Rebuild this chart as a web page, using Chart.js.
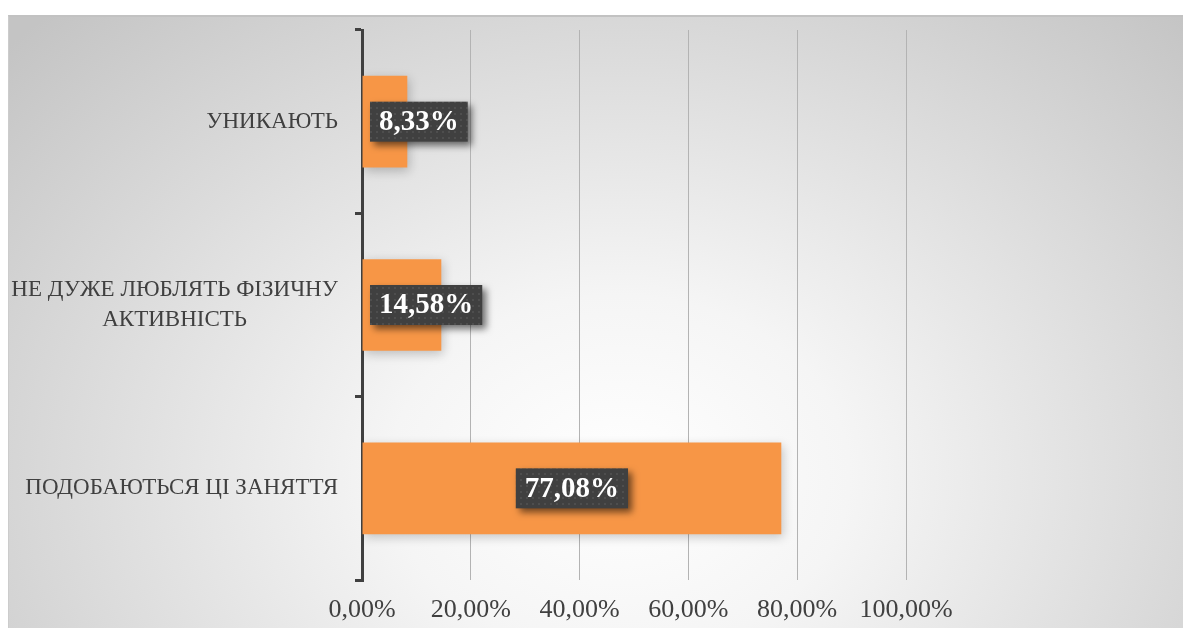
<!DOCTYPE html>
<html lang="uk">
<head>
<meta charset="utf-8">
<title>Ставлення до фізичної активності</title>
<script src="https://cdn.jsdelivr.net/npm/chart.js@4"></script>
<style>
  html, body { margin: 0; padding: 0; background: #ffffff; }
  #bg {
    position: absolute; left: 8px; top: 15px; right: 0; bottom: 0;
    border-top: 2px solid #c2c2c2; border-left: 1px solid #cccccc;
    background: radial-gradient(ellipse 70% 105% at 52% 75%, #ffffff 0%, #f5f5f5 28%, #c4c4c4 100%);
  }
  #wrap { position: absolute; left: 8px; top: 15px; width: 1175px; height: 613px; }
</style>
</head>
<body>
<div id="bg"></div>
<div id="wrap"><canvas id="chart"></canvas></div>
<script>
// категорії та значення (у відсотках)
const categories = ['УНИКАЮТЬ', ['НЕ ДУЖЕ ЛЮБЛЯТЬ ФІЗИЧНУ', 'АКТИВНІСТЬ'], 'ПОДОБАЮТЬСЯ ЦІ ЗАНЯТТЯ'];
const values = [8.33, 14.58, 77.08];
const xTickValues = [0, 20, 40, 60, 80, 100];

const FONT = "'Liberation Serif', 'DejaVu Serif', serif";
const fmt = v => v.toFixed(2).replace('.', ',') + '%';

// темна точкова заливка для підписів
function dotPattern(ctx) {
  const c = document.createElement('canvas');
  c.width = 6; c.height = 6;
  const g = c.getContext('2d');
  g.fillStyle = '#404040';
  g.fillRect(0, 0, 6, 6);
  g.fillStyle = 'rgba(255,255,255,0.10)';
  g.beginPath();
  g.arc(3, 3, 1, 0, Math.PI * 2);
  g.fill();
  return ctx.createPattern(c, 'repeat');
}

// тінь під смугами
const barShadow = {
  id: 'barShadow',
  beforeDatasetsDraw(chart) {
    const ctx = chart.ctx;
    ctx.save();
    ctx.shadowColor = 'rgba(0,0,0,0.22)';
    ctx.shadowBlur = 10;
    ctx.shadowOffsetX = 2;
    ctx.shadowOffsetY = 3;
  },
  afterDatasetsDraw(chart) {
    chart.ctx.restore();
  }
};

// підписи категорій (багаторядкові центруються між собою)
const categoryLabels = {
  id: 'categoryLabels',
  afterDraw(chart) {
    const ctx = chart.ctx;
    const y = chart.scales.y;
    const right = chart.chartArea.left - 24;
    ctx.save();
    ctx.font = '23px ' + FONT;
    ctx.fillStyle = '#404040';
    ctx.textBaseline = 'middle';
    ctx.textAlign = 'center';
    categories.forEach((lab, i) => {
      const lines = Array.isArray(lab) ? lab : [lab];
      const w = Math.max(...lines.map(l => ctx.measureText(l).width));
      const cx = right - w / 2;
      const cy = y.getPixelForValue(i);
      const lh = 30;
      lines.forEach((l, k) => {
        ctx.fillText(l, cx, cy + (k - (lines.length - 1) / 2) * lh);
      });
    });
    ctx.restore();
  }
};

// значення на смугах у темних рамках
const valueLabels = {
  id: 'valueLabels',
  afterDatasetsDraw(chart) {
    const ctx = chart.ctx;
    const meta = chart.getDatasetMeta(0);
    const base = chart.chartArea.left;
    const pattern = dotPattern(ctx);
    ctx.save();
    ctx.font = 'bold 29px ' + FONT;
    ctx.textBaseline = 'middle';
    ctx.textAlign = 'center';
    meta.data.forEach((bar, i) => {
      const text = fmt(values[i]);
      const w = ctx.measureText(text).width + 18;
      const h = 40;
      let cx = (bar.base + bar.x) / 2;
      if (cx - w / 2 < base + 8) cx = base + 8 + w / 2;
      const cy = bar.y;
      ctx.save();
      ctx.shadowColor = 'rgba(0,0,0,0.55)';
      ctx.shadowBlur = 7;
      ctx.shadowOffsetX = 4;
      ctx.shadowOffsetY = 4;
      ctx.fillStyle = pattern;
      ctx.fillRect(cx - w / 2, cy - h / 2, w, h);
      ctx.restore();
      ctx.fillStyle = '#ffffff';
      ctx.fillText(text, cx, cy + 1);
    });
    ctx.restore();
  }
};

const ctx = document.getElementById('chart').getContext('2d');
new Chart(ctx, {
  type: 'bar',
  data: {
    labels: categories,
    datasets: [{
      data: values,
      backgroundColor: '#f79646',
      borderWidth: 0,
      barPercentage: 0.5,
      categoryPercentage: 1
    }]
  },
  options: {
    indexAxis: 'y',
    responsive: true,
    maintainAspectRatio: false,
    animation: false,
    layout: { padding: { top: 15, right: 277, bottom: 0, left: 0 } },
    plugins: {
      legend: { display: false },
      tooltip: { enabled: false }
    },
    scales: {
      x: {
        min: 0,
        max: 100,
        afterBuildTicks: s => { s.ticks = xTickValues.map(v => ({ value: v })); },
        afterFit: s => { s.height = 48; },
        border: { display: false },
        grid: { color: '#b3b3b3', lineWidth: 1, drawTicks: false },
        ticks: {
          padding: 15,
          color: '#404040',
          font: { family: FONT, size: 26 },
          callback: v => fmt(v)
        }
      },
      y: {
        afterFit: s => { s.width = 354; },
        border: { display: true, color: '#404040', width: 3 },
        grid: { drawOnChartArea: false, drawTicks: true, tickLength: 7, color: '#404040', lineWidth: 3 },
        ticks: { display: false }
      }
    }
  },
  plugins: [barShadow, categoryLabels, valueLabels]
});
</script>
</body>
</html>
